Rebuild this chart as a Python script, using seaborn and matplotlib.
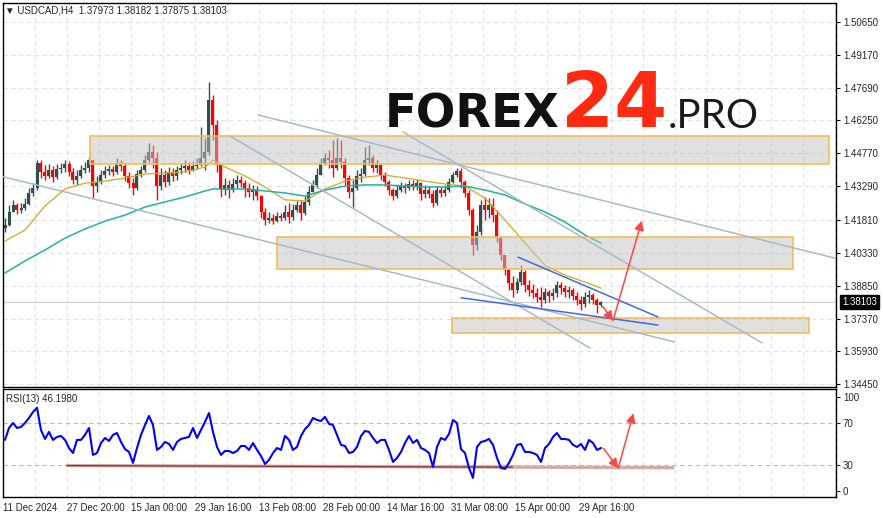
import matplotlib
matplotlib.use("Agg")
import matplotlib.pyplot as plt
import matplotlib.transforms as mtransforms
from matplotlib.patches import Rectangle
import numpy as np
import pandas as pd
import seaborn as sns

# ---- data (one candle = 4 H4 bars) ----
symbol = "USDCAD,H4"
last_ohlc = [1.37973, 1.38182, 1.37875, 1.38103]
rsi_name = "RSI(13) 46.1980"
first_open = 1.4143

close = [
    1.4157, 1.4215, 1.4246, 1.4224, 1.4232, 1.4251, 1.4300, 1.4322, 1.4434, 1.4394,
    1.4376, 1.4403, 1.4371, 1.4407, 1.4412, 1.4429, 1.4394, 1.4358, 1.4376, 1.4403,
    1.4412, 1.4447, 1.4331, 1.4349, 1.4380, 1.4398, 1.4407, 1.4394, 1.4434, 1.4421,
    1.4376, 1.4344, 1.4322, 1.4385, 1.4403, 1.4447, 1.4483, 1.4456, 1.4331, 1.4380,
    1.4349, 1.4394, 1.4376, 1.4403, 1.4412, 1.4421, 1.4403, 1.4421, 1.4425, 1.4456,
    1.4483, 1.4716, 1.4604, 1.4425, 1.4313, 1.4336, 1.4313, 1.4340, 1.4358, 1.4344,
    1.4322, 1.4304, 1.4313, 1.4286, 1.4215, 1.4179, 1.4188, 1.4174, 1.4197, 1.4188,
    1.4215, 1.4192, 1.4224, 1.4246, 1.4210, 1.4260, 1.4304, 1.4336, 1.4380, 1.4434,
    1.4456, 1.4447, 1.4412, 1.4456, 1.4438, 1.4367, 1.4304, 1.4322, 1.4376, 1.4385,
    1.4447, 1.4456, 1.4412, 1.4425, 1.4380, 1.4349, 1.4313, 1.4286, 1.4313, 1.4331,
    1.4322, 1.4340, 1.4331, 1.4344, 1.4295, 1.4313, 1.4295, 1.4255, 1.4313, 1.4300,
    1.4313, 1.4349, 1.4380, 1.4398, 1.4349, 1.4300, 1.4224, 1.4067, 1.4125, 1.4246,
    1.4224, 1.4246, 1.4201, 1.4098, 1.4021, 1.3954, 1.3897, 1.3865, 1.3901, 1.3946,
    1.3887, 1.3865, 1.3852, 1.3834, 1.3821, 1.3856, 1.3839, 1.3852, 1.3887, 1.3874,
    1.3856, 1.3865, 1.3839, 1.3821, 1.3803, 1.3834, 1.3843, 1.3821, 1.3797, 1.38103,
]
high = [
    1.4188, 1.4246, 1.4269, 1.4255, 1.4255, 1.4277, 1.4322, 1.4344, 1.4447, 1.4447,
    1.4425, 1.4429, 1.4421, 1.4429, 1.4434, 1.4447, 1.4443, 1.4412, 1.4403, 1.4425,
    1.4438, 1.4461, 1.4447, 1.4376, 1.4403, 1.4421, 1.4425, 1.4421, 1.4456, 1.4447,
    1.4429, 1.4394, 1.4367, 1.4403, 1.4421, 1.4470, 1.4524, 1.4515, 1.4483, 1.4412,
    1.4403, 1.4416, 1.4412, 1.4421, 1.4434, 1.4447, 1.4438, 1.4443, 1.4456, 1.4595,
    1.4546, 1.4797, 1.4738, 1.4627, 1.4425, 1.4367, 1.4358, 1.4367, 1.4380, 1.4376,
    1.4358, 1.4344, 1.4336, 1.4331, 1.4291, 1.4232, 1.4215, 1.4206, 1.4215, 1.4210,
    1.4246, 1.4255, 1.4251, 1.4264, 1.4269, 1.4286, 1.4331, 1.4358, 1.4412, 1.4456,
    1.4479, 1.4492, 1.4537, 1.4546, 1.4537, 1.4456, 1.4380, 1.4358, 1.4403, 1.4412,
    1.4506, 1.4515, 1.4470, 1.4447, 1.4434, 1.4394, 1.4358, 1.4322, 1.4336, 1.4349,
    1.4344, 1.4358, 1.4358, 1.4362, 1.4349, 1.4336, 1.4331, 1.4313, 1.4331, 1.4327,
    1.4336, 1.4367, 1.4394, 1.4412, 1.4412, 1.4358, 1.4313, 1.4232, 1.4157, 1.4269,
    1.4282, 1.4277, 1.4277, 1.4224, 1.4107, 1.4021, 1.3964, 1.3928, 1.3919, 1.3976,
    1.3954, 1.3910, 1.3892, 1.3874, 1.3879, 1.3874, 1.3865, 1.3874, 1.3906, 1.3901,
    1.3887, 1.3883, 1.3874, 1.3856, 1.3839, 1.3856, 1.3865, 1.3852, 1.3830, 1.38182,
]
low = [
    1.4125, 1.4152, 1.4215, 1.4206, 1.4210, 1.4224, 1.4246, 1.4286, 1.4313, 1.4367,
    1.4358, 1.4367, 1.4349, 1.4362, 1.4389, 1.4394, 1.4376, 1.4340, 1.4336, 1.4367,
    1.4389, 1.4394, 1.4277, 1.4304, 1.4340, 1.4367, 1.4380, 1.4376, 1.4385, 1.4398,
    1.4353, 1.4322, 1.4291, 1.4313, 1.4371, 1.4394, 1.4438, 1.4412, 1.4269, 1.4313,
    1.4327, 1.4336, 1.4353, 1.4358, 1.4385, 1.4394, 1.4385, 1.4398, 1.4407, 1.4421,
    1.4403, 1.4470, 1.4537, 1.4394, 1.4282, 1.4291, 1.4277, 1.4304, 1.4322, 1.4327,
    1.4282, 1.4282, 1.4269, 1.4269, 1.4188, 1.4157, 1.4165, 1.4161, 1.4170, 1.4174,
    1.4179, 1.4165, 1.4179, 1.4215, 1.4179, 1.4201, 1.4246, 1.4304, 1.4322, 1.4380,
    1.4425, 1.4412, 1.4371, 1.4403, 1.4412, 1.4336, 1.4277, 1.4237, 1.4313, 1.4349,
    1.4376, 1.4425, 1.4394, 1.4389, 1.4358, 1.4331, 1.4291, 1.4269, 1.4277, 1.4304,
    1.4300, 1.4313, 1.4313, 1.4313, 1.4269, 1.4277, 1.4277, 1.4237, 1.4246, 1.4282,
    1.4286, 1.4304, 1.4344, 1.4371, 1.4322, 1.4282, 1.4201, 1.4021, 1.4045, 1.4112,
    1.4179, 1.4188, 1.4170, 1.4081, 1.3999, 1.3932, 1.3865, 1.3834, 1.3852, 1.3887,
    1.3856, 1.3839, 1.3830, 1.3812, 1.3790, 1.3808, 1.3812, 1.3821, 1.3834, 1.3847,
    1.3834, 1.3830, 1.3821, 1.3799, 1.3776, 1.3790, 1.3808, 1.3803, 1.3763, 1.37875,
]

# moving averages, read at these candle numbers
ma_idx = [0, 5, 10, 15, 20, 25, 30, 35, 40, 45, 50, 52, 55, 60, 65, 70,
          75, 80, 85, 90, 95, 100, 105, 110, 115, 120, 125, 130, 135, 140, 145, 149]
ma_fast = [1.4085, 1.4134, 1.4242, 1.4318, 1.4344, 1.4353, 1.4367, 1.4385,
           1.4389, 1.4394, 1.4416, 1.4447, 1.4416, 1.4376, 1.4327, 1.4269,
           1.4264, 1.4318, 1.4353, 1.4371, 1.4380, 1.4367, 1.4353, 1.4340,
           1.4331, 1.4277, 1.4179, 1.4076, 1.3976, 1.3932, 1.3901, 1.3874]
ma_slow = [1.3942, 1.3996, 1.4045, 1.4098, 1.4139, 1.4174, 1.4201, 1.4237,
           1.4260, 1.4282, 1.4309, 1.4318, 1.4318, 1.4318, 1.4309, 1.4300,
           1.4286, 1.4313, 1.4331, 1.4336, 1.4336, 1.4331, 1.4327, 1.4327,
           1.4331, 1.4313, 1.4291, 1.4251, 1.4215, 1.4170, 1.4112, 1.4076]

rsi = [
    53.8, 65.0, 69.7, 65.0, 66.0, 69.7, 74.4, 80.0, 84.0, 63.0,
    54.7, 61.3, 53.8, 56.6, 57.5, 53.8, 46.2, 41.5, 53.8, 53.8,
    58.5, 65.0, 39.7, 41.5, 50.9, 55.6, 52.8, 58.5, 60.3, 51.9,
    45.2, 42.5, 32.2, 46.2, 58.5, 67.8, 76.3, 67.8, 44.4, 47.2,
    51.9, 50.0, 44.4, 51.9, 54.7, 55.6, 56.6, 65.0, 55.6, 63.1,
    70.7, 79.0, 61.3, 47.2, 39.7, 43.4, 43.4, 41.5, 43.4, 48.1,
    48.1, 44.4, 50.9, 44.4, 38.7, 31.2, 35.0, 41.5, 46.2, 44.4,
    57.5, 53.8, 44.4, 47.2, 57.5, 64.0, 67.8, 74.4, 72.5, 71.6,
    75.4, 68.8, 67.8, 58.5, 49.1, 48.1, 41.5, 42.5, 47.2, 57.5,
    62.2, 61.3, 55.6, 50.9, 53.8, 53.8, 44.4, 33.1, 36.9, 42.5,
    50.9, 57.5, 50.9, 53.8, 46.2, 44.4, 41.5, 28.4, 47.2, 55.6,
    53.8, 59.4, 72.5, 69.7, 45.2, 41.5, 27.5, 18.1, 47.2, 51.9,
    52.8, 54.7, 49.1, 36.9, 27.5, 26.6, 32.2, 39.7, 49.1, 50.0,
    42.5, 42.5, 41.5, 39.7, 33.1, 46.2, 50.0, 56.6, 60.3, 54.7,
    54.7, 53.8, 49.1, 47.2, 50.0, 44.4, 53.8, 50.9, 44.4, 46.198,
]

price_ticks = [1.50650, 1.49170, 1.47690, 1.46250, 1.44770, 1.43290,
               1.41810, 1.40330, 1.38850, 1.37370, 1.35930, 1.34450]
date_labels = ["11 Dec 2024", "27 Dec 20:00", "15 Jan 00:00", "29 Jan 16:00",
               "13 Feb 08:00", "28 Feb 00:00", "14 Mar 16:00", "31 Mar 08:00",
               "15 Apr 00:00", "29 Apr 16:00"]

# drawn analysis objects: (bar, price) or (bar, rsi)
zones = [(21.25, 206.0, 1.44283, 1.45536),
         (68.0, 197.0, 1.39584, 1.41029),
         (111.75, 201.1, 1.36720, 1.37405)]
grey_lines = [((63.25, 1.4649), (219.5, 1.3955)),
              ((99.5, 1.4573), (189.25, 1.3629)),
              ((56.25, 1.4555), (146.25, 1.3606)),
              ((-1.25, 1.4376), (167.5, 1.3633))]
wedge_lines = [((128.25, 1.4013), (163.25, 1.3745)),
               ((114.0, 1.3831), (163.25, 1.3709))]
price_path = [(149.5, 1.3791), (152.0, 1.3728), (159.2, 1.4176)]
rsi_path = [(149.6, 46.0), (153.3, 27.2), (157.1, 78.8)]
rsi_support = [(15.5, 29.7), (167.0, 27.7)]

# ---- figure ----
sns.set_style("white")
plt.rcParams["font.family"] = ["Liberation Sans", "DejaVu Sans"]

W, H = 883, 518
fig = plt.figure(figsize=(W / 100, H / 100), dpi=100)
ax = fig.add_axes([3 / W, 131 / H, 833 / W, 384 / H])
ax_rsi = fig.add_axes([3 / W, 21 / H, 833 / W, 108 / H])

xlim = (-0.5, 207.75)
grid_x = np.arange(7.5, 208, 8)
grid_kw = dict(color="#e2e2e2", ls=(0, (4, 3)), lw=0.8)

# candles
bars = np.arange(len(close))
closes = np.array(close)
opens = np.r_[first_open, closes[:-1]]
colors = np.where(closes >= opens, "#2f4f4f", "#ff0000")
ax.vlines(bars, low, high, colors=colors, lw=1.0, zorder=2)
ax.bar(bars, np.maximum(np.abs(closes - opens), 0.00008),
       bottom=np.minimum(opens, closes), width=0.75, color=colors,
       linewidth=0, zorder=2)

ma = pd.DataFrame({"bar": ma_idx, "fast": ma_fast, "slow": ma_slow})
sns.lineplot(data=ma, x="bar", y="fast", ax=ax, color="#daa520", lw=0.9,
             estimator=None, sort=False, legend=False, zorder=2.5)
sns.lineplot(data=ma, x="bar", y="slow", ax=ax, color="#20b2aa", lw=1.1,
             estimator=None, sort=False, legend=False, zorder=2.5)

for x0, x1, y0, y1 in zones:
    ax.add_patch(Rectangle((x0, y0), x1 - x0, y1 - y0, facecolor="#c2c2c2",
                           alpha=0.5, edgecolor="none", zorder=3))
    ax.add_patch(Rectangle((x0, y0), x1 - x0, y1 - y0, fill=False,
                           edgecolor="#f3bd58", lw=1.2, zorder=3.1))

for (xa, ya), (xb, yb) in grey_lines:
    ax.plot([xa, xb], [ya, yb], color="#a8bac9", lw=1.1, zorder=4)
for (xa, ya), (xb, yb) in wedge_lines:
    ax.plot([xa, xb], [ya, yb], color="#3d6af0", lw=1.1, zorder=4)

arrow_kw = dict(arrowstyle="-|>", color="#ff4545", lw=1.1,
                mutation_scale=14, shrinkA=0, shrinkB=0)
for a, b in zip(price_path[:-1], price_path[1:]):
    ax.annotate("", xy=b, xytext=a, arrowprops=arrow_kw, zorder=5)

ax.axhline(last_ohlc[3], color="#cccccc", lw=0.8, zorder=1.5)

ax.set_xlim(*xlim)
ax.set_ylim(1.34317, 1.51501)
ax.set_xticks(grid_x)
ax.tick_params(axis="x", length=0, labelbottom=False)
ax.yaxis.tick_right()
ax.set_yticks(price_ticks)
ax.set_yticklabels([f"{t:.5f}" for t in price_ticks])
ax.tick_params(axis="y", length=3, pad=2, labelsize=7, color="black")
ax.grid(True, **grid_kw)
ax.set_axisbelow(True)
ax.set_xlabel("")
ax.set_ylabel("")

trans = mtransforms.blended_transform_factory(ax.transAxes, ax.transData)
ax.text(1.0072, last_ohlc[3], f"{last_ohlc[3]:.5f}", transform=trans,
        fontsize=7, color="white", va="center", ha="left",
        bbox=dict(boxstyle="square,pad=0.2", fc="black", ec="black"))

# RSI panel
rsi_df = pd.DataFrame({"bar": bars, "rsi": rsi})
sns.lineplot(data=rsi_df, x="bar", y="rsi", ax=ax_rsi, color="#0000ff",
             lw=1.5, estimator=None, sort=False, legend=False, zorder=3)
for lvl in (70, 30):
    ax_rsi.axhline(lvl, color="#bdbdbd", ls=(0, (4, 3)), lw=0.8, zorder=1)
(sx0, sy0), (sx1, sy1) = rsi_support
ax_rsi.plot([sx0, sx1], [sy0, sy1], color="#d2aaaa", lw=2.4, zorder=2)
mid = sx0 + (sx1 - sx0) * 0.735
ax_rsi.plot([sx0, mid], [sy0, sy0 + (sy1 - sy0) * 0.735], color="#8e3030",
            lw=0.9, zorder=2.1)
for a, b in zip(rsi_path[:-1], rsi_path[1:]):
    ax_rsi.annotate("", xy=b, xytext=a, arrowprops=arrow_kw, zorder=5)

ax_rsi.set_xlim(*xlim)
ax_rsi.set_ylim(0.2, 101.6)
ax_rsi.yaxis.tick_right()
ax_rsi.set_yticks([94.5, 70, 30, 5.7])
ax_rsi.set_yticklabels(["100", "70", "30", "0"])
ax_rsi.tick_params(axis="y", length=3, pad=2, labelsize=7)
date_pos = -0.5 + 16 * np.arange(len(date_labels))
ax_rsi.set_xticks(date_pos)
ax_rsi.set_xticklabels(date_labels, ha="left")
ax_rsi.set_xticks(grid_x, minor=True)
ax_rsi.tick_params(axis="x", which="major", length=3, pad=1.5, labelsize=7)
ax_rsi.tick_params(axis="x", which="minor", length=0)
ax_rsi.grid(True, which="both", axis="x", **grid_kw)
ax_rsi.set_axisbelow(True)
ax_rsi.set_xlabel("")
ax_rsi.set_ylabel("")

for a in (ax, ax_rsi):
    for s in a.spines.values():
        s.set_color("black")
        s.set_linewidth(1.0)

# texts
header = "\u25bc " + symbol + "  " + " ".join(f"{v:.5f}" for v in last_ohlc)
fig.text(5 / W, 1 - 10.5 / H, header, fontsize=7, va="center", ha="left")
fig.text(6 / W, 1 - 398.5 / H, rsi_name, fontsize=7, va="center", ha="left")

fig.text(385 / W, 1 - 127 / H, "FOREX", fontsize=33.5, fontweight="bold",
         family="DejaVu Sans", color="#111111", va="baseline", ha="left")
fig.text(561 / W, 1 - 127 / H, "24", fontsize=55, fontweight="bold",
         family="DejaVu Sans", color="#ff2a12", va="baseline", ha="left")
fig.text(668 / W, 1 - 128 / H, ".PRO", fontsize=29, fontweight="normal",
         family=["Lato", "DejaVu Sans"], color="#1a1a1a", va="baseline",
         ha="left")

fig.savefig("out.png", dpi=100)
